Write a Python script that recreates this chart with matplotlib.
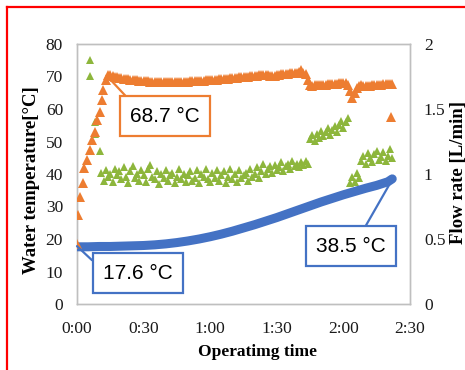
import matplotlib
matplotlib.use("Agg")
import matplotlib.pyplot as plt
import numpy as np
from matplotlib.lines import Line2D

# ---------------- data ----------------
# hot water temperature (orange), minutes
hot_rise_t = [0, 0.5, 1.4, 2.7, 3.2, 4.5, 5.9, 6.8, 8.1, 9.0, 10.4, 11.3, 11.7, 13.0]
hot_rise_v = [18.5, 27.4, 33.0, 37.2, 41.8, 44.3, 47.4, 50.5, 53.0, 56.6, 59.0, 62.8, 65.8, 69.0]
hot_t = list(range(14, 143))
hot_v = [70.6, 70.4, 70.2, 70.0, 69.8, 69.6, 69.5, 69.3, 69.2, 69.1,
         69.0, 68.9, 68.8, 68.8, 68.7, 68.6, 68.6, 68.5, 68.5, 68.4,
         68.4, 68.4, 68.3, 68.3, 68.3, 68.3, 68.3, 68.3, 68.3, 68.3,
         68.3, 68.3, 68.3, 68.4, 68.4, 68.4, 68.4, 68.5, 68.5, 68.5,
         68.6, 68.6, 68.7, 68.7, 68.8, 68.8, 68.9, 68.9, 69.0, 69.0,
         69.1, 69.1, 69.2, 69.2, 69.3, 69.4, 69.4, 69.5, 69.6, 69.7,
         69.8, 69.8, 69.9, 70.0, 70.1, 70.2, 70.3, 70.3, 70.4, 70.5,
         70.5, 70.6, 70.4, 70.2, 70.1, 70.3, 70.5, 70.6, 70.7, 70.8,
         70.8, 70.9, 71.0, 71.0, 71.1, 71.2, 71.5, 71.9, 71.2, 70.9,
         69.0, 67.4, 67.2, 67.3, 67.4, 67.5, 67.3, 67.4, 67.5, 67.6,
         67.6, 67.7, 67.8, 67.8, 67.9, 68.0, 68.0, 67.9, 67.5, 65.5,
         63.5, 65.0, 66.5, 67.2, 67.4, 67.2, 67.0, 67.1, 67.2, 67.3,
         67.3, 67.4, 67.5, 67.5, 67.6, 67.7, 67.7, 67.8, 67.8]
hot_last_t = [141.5]
hot_last_v = [57.5]

# flow rate (green), L/min
flow_t = [5.9, 5.9, 8.1, 8.1, 10.4] + list(range(11, 143))
flow_v = [1.88, 1.75, 1.40, 1.31, 1.18,
          1.01, 0.95, 1.03, 0.98, 1.00, 0.94, 1.04, 0.99, 1.02,
          0.96, 1.05, 0.98, 0.93, 1.02, 1.06, 0.97, 1.00, 0.95, 1.03,
          0.99, 0.94, 1.04, 1.07, 0.98, 0.96, 1.02, 0.92, 1.00, 0.97,
          1.03, 0.95, 0.99, 1.01, 0.93, 0.98, 1.04, 0.96, 1.00, 0.94,
          0.99, 1.02, 0.95, 0.97, 1.03, 0.93, 1.00, 0.98, 1.04, 0.96,
          0.94, 1.01, 0.97, 1.03, 0.95, 0.99, 1.02, 0.93, 0.98, 1.04,
          0.96, 1.00, 0.94, 1.03, 0.97, 0.99, 1.01, 0.95, 1.04, 0.98,
          1.00, 1.05, 0.97, 1.02, 1.08, 1.00, 1.04, 1.06, 1.01, 1.07,
          1.03, 1.05, 1.09, 1.02, 1.06, 1.08, 1.04, 1.10, 1.06, 1.08,
          1.05, 1.09, 1.07, 1.10, 1.08,
          1.27, 1.30, 1.25, 1.31, 1.28, 1.33, 1.29, 1.32, 1.35, 1.30,
          1.34, 1.37, 1.32, 1.38, 1.41, 1.35, 1.40, 1.43,
          0.93, 0.98, 0.94, 1.01, 0.97,
          1.10, 1.14, 1.08, 1.16, 1.12, 1.09, 1.15, 1.18, 1.11, 1.13,
          1.17, 1.10, 1.14, 1.19, 1.12]

# tank water temperature (blue)
water_t = [0, 5, 10, 15, 20, 25, 30, 35, 40, 45, 50, 55, 60, 65, 70, 75, 80,
           85, 90, 95, 100, 105, 110, 115, 120, 125, 130, 135, 140, 142]
water_v = [17.6, 17.6, 17.7, 17.7, 17.8, 17.9, 18.0, 18.2, 18.5, 18.9, 19.4,
           20.0, 20.7, 21.5, 22.4, 23.4, 24.4, 25.5, 26.6, 27.8, 29.0, 30.2,
           31.4, 32.5, 33.6, 34.6, 35.6, 36.5, 37.6, 38.5]

x_ticks = [0, 30, 60, 90, 120, 150]
x_labels = ["0:00", "0:30", "1:00", "1:30", "2:00", "2:30"]
y_left_ticks = [0, 10, 20, 30, 40, 50, 60, 70, 80]
y_right_ticks = [0, 0.5, 1, 1.5, 2]
y_right_labels = ["0", "0.5", "1", "1.5", "2"]

ORANGE = "#ED7D31"
GREEN = "#8DB63C"
BLUE = "#4472C4"

serif = ["Liberation Serif", "DejaVu Serif"]
sans = ["Liberation Sans", "DejaVu Sans"]

fig = plt.figure(figsize=(4.65, 3.70), dpi=100)
ax = fig.add_axes([77 / 465, 1 - 304 / 370, 333 / 465, 260 / 370])
ax2 = ax.twinx()

ax.set_xlim(0, 150)
ax.set_ylim(0, 80)
ax2.set_ylim(0, 2)

# series
ax2.plot(flow_t, flow_v, linestyle="none", marker="^", markersize=6,
         color=GREEN, markeredgewidth=0, zorder=2)
ax.plot(water_t, water_v, color=BLUE, linewidth=6.5, solid_capstyle="round",
        zorder=3)
ax.plot(hot_rise_t + hot_t + hot_last_t, hot_rise_v + hot_v + hot_last_v,
        linestyle="none", marker="^", markersize=6.5, color=ORANGE,
        markeredgewidth=0, zorder=4)
ax.set_zorder(ax2.get_zorder() + 1)
ax.patch.set_visible(False)

# ticks
ax.set_xticks(x_ticks)
ax.set_xticklabels(x_labels, fontfamily=serif, fontsize=12.5)
ax.set_yticks(y_left_ticks)
ax.set_yticklabels([str(v) for v in y_left_ticks], fontfamily=serif, fontsize=12.5)
ax2.set_yticks(y_right_ticks)
ax2.set_yticklabels(y_right_labels, fontfamily=serif, fontsize=12.5)
ax.tick_params(axis="both", length=0, pad=10, colors="#1a1a1a")
ax.tick_params(axis="x", pad=12)
ax2.tick_params(axis="y", length=0, pad=10, colors="#1a1a1a")

for a in (ax, ax2):
    for s in a.spines.values():
        s.set_color("#BFBFBF")
        s.set_linewidth(1)

# labels
fig.text(31 / 465, 1 - 180 / 370, "Water temperature[°C]", rotation=90,
         ha="center", va="center", fontfamily=serif, fontweight="bold",
         fontsize=13.5)
fig.text(458 / 465, 1 - 173 / 370, "Flow rate [L/min]", rotation=90,
         ha="center", va="center", fontfamily=serif, fontweight="bold",
         fontsize=13.5)
fig.text(257 / 465, 1 - 352 / 370, "Operatimg time", ha="center",
         va="center", fontfamily=serif, fontweight="bold", fontsize=12.5)

# annotations
box_kw = dict(ha="center", va="center", fontsize=15, fontfamily=sans, zorder=6)
ax.annotate("68.7 °C", xy=(13.3, 70.3), xytext=(39.6, 57.8),
            bbox=dict(boxstyle="square,pad=0.5", fc="white", ec=ORANGE, lw=1.6),
            arrowprops=dict(arrowstyle="-", color=ORANGE, lw=1.6,
                            relpos=(0.08, 1.0), shrinkA=0, shrinkB=0),
            **box_kw)
ax.annotate("17.6 °C", xy=(0, 17.8), xytext=(27.5, 9.5),
            bbox=dict(boxstyle="square,pad=0.5", fc="white", ec=BLUE, lw=1.6),
            arrowprops=dict(arrowstyle="-", color=BLUE, lw=1.6,
                            relpos=(0.0, 0.63), shrinkA=0, shrinkB=0),
            **box_kw)
ax.annotate("38.5 °C", xy=(142, 38.3), xytext=(123.5, 17.8),
            bbox=dict(boxstyle="square,pad=0.5", fc="white", ec=BLUE, lw=1.6),
            arrowprops=dict(arrowstyle="-", color=BLUE, lw=1.6,
                            relpos=(0.62, 1.0), shrinkA=0, shrinkB=0),
            **box_kw)

# red frame (left and top edges)
fig.add_artist(Line2D([7 / 465, 7 / 465], [0, 1 - 7 / 370], color="red",
                      lw=1.6, transform=fig.transFigure))
fig.add_artist(Line2D([7 / 465, 1], [1 - 7 / 370, 1 - 7 / 370], color="red",
                      lw=1.6, transform=fig.transFigure))

fig.savefig("out.png", dpi=100)
